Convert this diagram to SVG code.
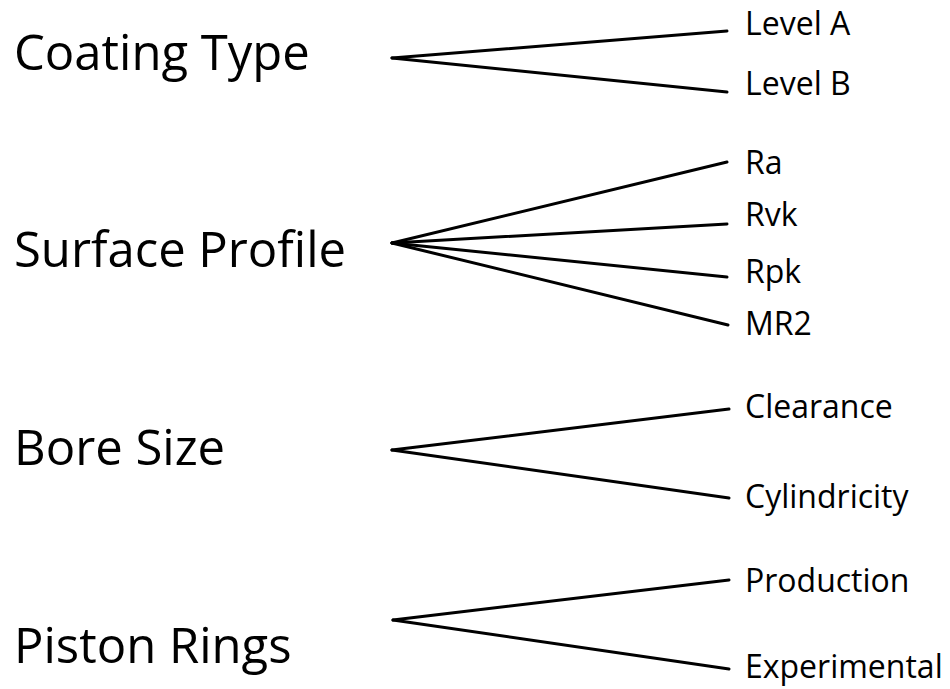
<svg xmlns="http://www.w3.org/2000/svg" width="950" height="689" viewBox="0 0 950 689">
<style>
.root{font-family:"Open Sans","Noto Sans",sans-serif;font-size:49px;fill:#000}
.leaf{font-family:"Open Sans","Noto Sans",sans-serif;font-size:32px;fill:#000}
.conn line{stroke:#000;stroke-width:3;stroke-linecap:round}
</style>
<rect width="950" height="689" fill="#fff"/>
<g id="connectors" class="conn">
<line x1="392" y1="58" x2="727" y2="31"/>
<line x1="392" y1="58" x2="727" y2="92"/>
<line x1="392" y1="243" x2="727" y2="162"/>
<line x1="392" y1="243" x2="727" y2="224"/>
<line x1="392" y1="243" x2="727" y2="277"/>
<line x1="392" y1="243" x2="728" y2="325"/>
<line x1="392" y1="450" x2="729" y2="409"/>
<line x1="392" y1="450" x2="729" y2="498"/>
<line x1="393" y1="620" x2="729" y2="580"/>
<line x1="393" y1="620" x2="729" y2="669"/>
</g>
<g id="coating-type"><text class="root" x="14" y="70">Coating Type</text></g>
<g id="surface-profile"><text class="root" x="14" y="267">Surface Profile</text></g>
<g id="bore-size"><text class="root" x="14" y="465">Bore Size</text></g>
<g id="piston-rings"><text class="root" x="14" y="663">Piston Rings</text></g>
<g id="level-a"><text class="leaf" x="745" y="35">Level A</text></g>
<g id="level-b"><text class="leaf" x="745" y="95">Level B</text></g>
<g id="ra"><text class="leaf" x="745" y="174">Ra</text></g>
<g id="rvk"><text class="leaf" x="745" y="226">Rvk</text></g>
<g id="rpk"><text class="leaf" x="745" y="283">Rpk</text></g>
<g id="mr2"><text class="leaf" x="745" y="335">MR2</text></g>
<g id="clearance"><text class="leaf" x="745" y="418">Clearance</text></g>
<g id="cylindricity"><text class="leaf" x="745" y="508">Cylindricity</text></g>
<g id="production"><text class="leaf" x="745" y="592">Production</text></g>
<g id="experimental"><text class="leaf" x="745" y="678">Experimental</text></g>
</svg>
